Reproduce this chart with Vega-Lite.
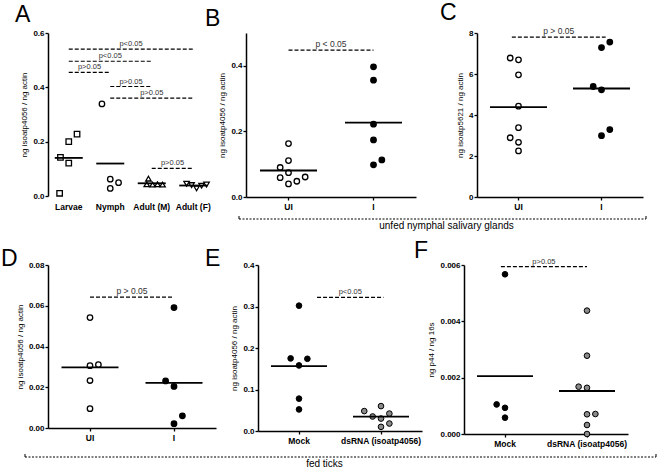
{
  "$schema": "https://vega.github.io/schema/vega-lite/v6.json",
  "padding": {"left": 1, "top": 2, "right": 0, "bottom": 0},
  "config": {
    "view": {"stroke": null},
    "font": "Liberation Sans",
    "title": {"fontSize": 23, "fontWeight": "normal", "anchor": "start", "frame": "group", "color": "black", "font": "Liberation Sans"},
    "axis": {"domainColor": "black", "domainWidth": 1.5, "tickColor": "black", "tickWidth": 1.3, "tickSize": 3, "labelFont": "Liberation Sans", "labelFontSize": 8, "labelFontWeight": "bold", "labelColor": "black", "labelPadding": 1, "titleFont": "Liberation Sans", "titleFontSize": 8, "titleFontWeight": "normal", "titleColor": "black", "titlePadding": 4, "grid": false},
    "axisX": {"labelAngle": 0, "labelFontSize": 8.5, "labelPadding": 2}
  },
  "datasets": {
    "A": [
      {"group": "Larvae", "j": -1, "value": 0.142},
      {"group": "Larvae", "j": 0, "value": 0.2},
      {"group": "Larvae", "j": 1, "value": 0.228},
      {"group": "Larvae", "j": 0, "value": 0.121},
      {"group": "Larvae", "j": -1.1, "value": 0.01},
      {"group": "Nymph", "j": -1, "value": 0.339},
      {"group": "Nymph", "j": 0, "value": 0.062},
      {"group": "Nymph", "j": 1, "value": 0.049},
      {"group": "Nymph", "j": 0, "value": 0.028},
      {"group": "Adult (M)", "j": -0.4, "value": 0.064},
      {"group": "Adult (M)", "j": -0.6, "value": 0.043},
      {"group": "Adult (M)", "j": 0.1, "value": 0.042},
      {"group": "Adult (M)", "j": 0.7, "value": 0.043},
      {"group": "Adult (M)", "j": 1.3, "value": 0.042},
      {"group": "Adult (F)", "j": -0.8, "value": 0.045},
      {"group": "Adult (F)", "j": -0.2, "value": 0.04},
      {"group": "Adult (F)", "j": 0.4, "value": 0.028},
      {"group": "Adult (F)", "j": 1.0, "value": 0.038},
      {"group": "Adult (F)", "j": 1.6, "value": 0.042}
    ],
    "A_p": [
      {"a": 0, "b": 3, "y": 0.541, "label": "p<0.05"},
      {"a": 0, "b": 2, "y": 0.496, "label": "p<0.05"},
      {"a": 0, "b": 1, "y": 0.455, "label": "p>0.05"},
      {"a": 1, "b": 2, "y": 0.403, "label": "p>0.05"},
      {"a": 1, "b": 3, "y": 0.36, "label": "p>0.05"},
      {"a": 2, "b": 3, "y": 0.102, "label": "p>0.05"}
    ],
    "B": [
      {"group": "UI", "j": 0, "value": 0.163},
      {"group": "UI", "j": 0, "value": 0.111},
      {"group": "UI", "j": -1, "value": 0.09},
      {"group": "UI", "j": 0, "value": 0.074},
      {"group": "UI", "j": -1, "value": 0.059},
      {"group": "UI", "j": 0, "value": 0.04},
      {"group": "UI", "j": 1, "value": 0.048},
      {"group": "UI", "j": 2, "value": 0.061},
      {"group": "I", "j": 0, "value": 0.397},
      {"group": "I", "j": 0, "value": 0.356},
      {"group": "I", "j": 0, "value": 0.222},
      {"group": "I", "j": 0, "value": 0.174},
      {"group": "I", "j": 0, "value": 0.098},
      {"group": "I", "j": 1, "value": 0.113}
    ],
    "B_p": [{"a": 0, "b": 1, "y": 0.448, "label": "p < 0.05"}],
    "C": [
      {"group": "UI", "j": -1, "value": 6.78},
      {"group": "UI", "j": 0, "value": 6.69},
      {"group": "UI", "j": 0, "value": 5.96},
      {"group": "UI", "j": 0, "value": 4.43},
      {"group": "UI", "j": 0, "value": 3.38},
      {"group": "UI", "j": -1, "value": 2.89},
      {"group": "UI", "j": 0, "value": 2.67},
      {"group": "UI", "j": 0, "value": 2.25},
      {"group": "I", "j": 1, "value": 7.56},
      {"group": "I", "j": 0, "value": 7.29},
      {"group": "I", "j": -1, "value": 5.39},
      {"group": "I", "j": 0, "value": 5.23},
      {"group": "I", "j": 1, "value": 3.29},
      {"group": "I", "j": 0, "value": 2.99}
    ],
    "C_p": [{"a": -0.08, "b": 1.05, "y": 7.8, "label": "p > 0.05"}],
    "D": [
      {"group": "UI", "j": 0, "value": 0.0542},
      {"group": "UI", "j": 0, "value": 0.0306},
      {"group": "UI", "j": 1, "value": 0.0311},
      {"group": "UI", "j": 0, "value": 0.0233},
      {"group": "UI", "j": 0, "value": 0.0095},
      {"group": "I", "j": 0, "value": 0.0591},
      {"group": "I", "j": -1, "value": 0.0231},
      {"group": "I", "j": 0, "value": 0.0204},
      {"group": "I", "j": 1, "value": 0.006},
      {"group": "I", "j": 0, "value": 0.0021}
    ],
    "D_p": [{"a": 0, "b": 1, "y": 0.0642, "label": "p > 0.05"}],
    "E": [
      {"group": "Mock", "j": 0, "value": 0.302},
      {"group": "Mock", "j": -1, "value": 0.175},
      {"group": "Mock", "j": 1, "value": 0.174},
      {"group": "Mock", "j": 0, "value": 0.158},
      {"group": "Mock", "j": 0, "value": 0.078},
      {"group": "Mock", "j": 0, "value": 0.052},
      {"group": "dsRNA (isoatp4056)", "j": -2, "value": 0.048},
      {"group": "dsRNA (isoatp4056)", "j": -1, "value": 0.035},
      {"group": "dsRNA (isoatp4056)", "j": 0, "value": 0.06},
      {"group": "dsRNA (isoatp4056)", "j": 1, "value": 0.042},
      {"group": "dsRNA (isoatp4056)", "j": 0, "value": 0.03},
      {"group": "dsRNA (isoatp4056)", "j": 1, "value": 0.018},
      {"group": "dsRNA (isoatp4056)", "j": 0, "value": 0.01}
    ],
    "E_p": [{"a": 0.22, "b": 1.03, "y": 0.322, "label": "p<0.05"}],
    "F": [
      {"group": "Mock", "j": 0, "value": 0.00567},
      {"group": "Mock", "j": -1, "value": 0.00105},
      {"group": "Mock", "j": 0, "value": 0.00093},
      {"group": "Mock", "j": 0, "value": 0.00058},
      {"group": "dsRNA (isoatp4056)", "j": 0, "value": 0.00438},
      {"group": "dsRNA (isoatp4056)", "j": 0, "value": 0.00278},
      {"group": "dsRNA (isoatp4056)", "j": -1, "value": 0.00168},
      {"group": "dsRNA (isoatp4056)", "j": 0, "value": 0.00164},
      {"group": "dsRNA (isoatp4056)", "j": 0, "value": 0.0007},
      {"group": "dsRNA (isoatp4056)", "j": 1, "value": 0.00071},
      {"group": "dsRNA (isoatp4056)", "j": 0, "value": 0.00032},
      {"group": "dsRNA (isoatp4056)", "j": 0, "value": 0.0}
    ],
    "F_p": [{"a": -0.05, "b": 1.0, "y": 0.00594, "label": "p>0.05"}]
  },
  "spacing": 8,
  "resolve": {"scale": {"fill": "independent", "shape": "independent", "xOffset": "independent"}},
  "vconcat": [
    {
      "spacing": -9,
      "resolve": {"scale": {"fill": "independent", "shape": "independent", "xOffset": "independent"}},
      "hconcat": [
        {
          "width": 166, "height": 163,
          "title": {"text": "A", "dx": -33, "offset": 2},
          "layer": [
            {"layer": [
              {"data": {"name": "A"},
               "mark": {"type": "point", "filled": true, "fill": "white", "stroke": "black", "strokeWidth": 1.3, "size": 30, "opacity": 1},
               "encoding": {
                 "x": {"field": "group", "type": "nominal", "sort": ["Larvae", "Nymph", "Adult (M)", "Adult (F)"], "scale": {"type": "band", "paddingInner": 0, "paddingOuter": 0}, "axis": {"title": null, "domain": false, "ticks": false, "labelPadding": 6}},
                 "xOffset": {"field": "j", "type": "quantitative", "scale": {"domain": [-2.5, 2.5], "nice": false, "zero": false}},
                 "y": {"field": "value", "type": "quantitative", "scale": {"domain": [0, 0.6], "nice": false}, "axis": {"title": "ng isoatp4056 / ng actin", "values": [0, 0.2, 0.4, 0.6], "format": ".1f"}},
                 "shape": {"field": "group", "type": "nominal", "scale": {"domain": ["Larvae", "Nymph", "Adult (M)", "Adult (F)"], "range": ["square", "circle", "triangle-up", "triangle-down"]}, "legend": null}
               }},
              {"data": {"name": "A"},
               "mark": {"type": "tick", "color": "black", "thickness": 1.8, "size": 28},
               "encoding": {
                 "x": {"field": "group", "type": "nominal", "sort": ["Larvae", "Nymph", "Adult (M)", "Adult (F)"], "scale": {"type": "band", "paddingInner": 0, "paddingOuter": 0}},
                 "y": {"aggregate": "mean", "field": "value", "type": "quantitative", "title": "ng isoatp4056 / ng actin"}
               }}
            ]},
            {"data": {"name": "A_p"},
             "transform": [{"calculate": "(datum.a + datum.b) / 2", "as": "m"}],
             "layer": [
               {"mark": {"type": "rule", "color": "black", "strokeWidth": 1.2, "strokeDash": [4, 2]},
                "encoding": {
                  "x": {"field": "a", "type": "quantitative", "scale": {"domain": [-0.5, 3.5], "nice": false, "zero": false}, "axis": null},
                  "x2": {"field": "b"},
                  "y": {"field": "y", "type": "quantitative", "title": "ng isoatp4056 / ng actin"}
                }},
               {"mark": {"type": "text", "baseline": "bottom", "dy": -1, "fontSize": 7.5, "fill": "#333"},
                "encoding": {
                  "x": {"field": "m", "type": "quantitative", "scale": {"domain": [-0.5, 3.5], "nice": false, "zero": false}, "axis": null},
                  "y": {"field": "y", "type": "quantitative", "title": "ng isoatp4056 / ng actin"},
                  "text": {"field": "label"}
                }}
             ]}
          ],
          "resolve": {"scale": {"x": "independent"}}
        },
        {
          "spacing": 5,
          "resolve": {"scale": {"fill": "independent", "shape": "independent", "xOffset": "independent"}},
          "vconcat": [
            {
              "bounds": "flush",
              "spacing": 61,
              "resolve": {"scale": {"fill": "independent", "shape": "independent", "xOffset": "independent"}},
              "hconcat": [
                {
                  "width": 170, "height": 164,
                  "title": {"text": "B", "dx": -41, "offset": 2},
                  "layer": [
                    {"layer": [
                      {"data": {"name": "B"},
                       "mark": {"type": "point", "shape": "circle", "filled": true, "stroke": "black", "strokeWidth": 1.3, "size": 30, "opacity": 1},
                       "encoding": {
                         "x": {"field": "group", "type": "nominal", "sort": ["UI", "I"], "scale": {"type": "band", "paddingInner": 0, "paddingOuter": 0}, "axis": {"title": null}},
                         "xOffset": {"field": "j", "type": "quantitative", "scale": {"domain": [-5.1, 5.1], "nice": false, "zero": false}},
                         "y": {"field": "value", "type": "quantitative", "scale": {"domain": [0, 0.5], "nice": false}, "axis": {"title": "ng isoatp4056 / ng actin", "values": [0, 0.1, 0.2, 0.3, 0.4, 0.5], "format": ".1f"}},
                         "fill": {"field": "group", "type": "nominal", "scale": {"domain": ["UI", "I"], "range": ["white", "black"]}, "legend": null}
                       }},
                      {"data": {"name": "B"},
                       "mark": {"type": "tick", "color": "black", "thickness": 1.8, "size": 57},
                       "encoding": {
                         "x": {"field": "group", "type": "nominal", "sort": ["UI", "I"], "scale": {"type": "band", "paddingInner": 0, "paddingOuter": 0}},
                         "y": {"aggregate": "mean", "field": "value", "type": "quantitative", "title": "ng isoatp4056 / ng actin"}
                       }}
                    ]},
                    {"data": {"name": "B_p"},
                     "transform": [{"calculate": "(datum.a + datum.b) / 2", "as": "m"}],
                     "layer": [
                       {"mark": {"type": "rule", "color": "black", "strokeWidth": 1.2, "strokeDash": [4, 2]},
                        "encoding": {
                          "x": {"field": "a", "type": "quantitative", "scale": {"domain": [-0.5, 1.5], "nice": false, "zero": false}, "axis": null},
                          "x2": {"field": "b"},
                          "y": {"field": "y", "type": "quantitative", "title": "ng isoatp4056 / ng actin"}
                        }},
                       {"mark": {"type": "text", "baseline": "bottom", "dy": -1, "fontSize": 8.5, "fill": "#333"},
                        "encoding": {
                          "x": {"field": "m", "type": "quantitative", "scale": {"domain": [-0.5, 1.5], "nice": false, "zero": false}, "axis": null},
                          "y": {"field": "y", "type": "quantitative", "title": "ng isoatp4056 / ng actin"},
                          "text": {"field": "label"}
                        }}
                     ]}
                  ],
                  "resolve": {"scale": {"x": "independent"}}
                },
                {
                  "width": 166, "height": 164,
                  "title": {"text": "C", "dx": -37, "offset": 2},
                  "layer": [
                    {"layer": [
                      {"data": {"name": "C"},
                       "mark": {"type": "point", "shape": "circle", "filled": true, "stroke": "black", "strokeWidth": 1.3, "size": 30, "opacity": 1},
                       "encoding": {
                         "x": {"field": "group", "type": "nominal", "sort": ["UI", "I"], "scale": {"type": "band", "paddingInner": 0, "paddingOuter": 0}, "axis": {"title": null}},
                         "xOffset": {"field": "j", "type": "quantitative", "scale": {"domain": [-5, 5], "nice": false, "zero": false}},
                         "y": {"field": "value", "type": "quantitative", "scale": {"domain": [0, 8], "nice": false}, "axis": {"title": "ng isoatp5621 / ng actin", "values": [0, 2, 4, 6, 8], "format": "d"}},
                         "fill": {"field": "group", "type": "nominal", "scale": {"domain": ["UI", "I"], "range": ["white", "black"]}, "legend": null}
                       }},
                      {"data": {"name": "C"},
                       "mark": {"type": "tick", "color": "black", "thickness": 1.8, "size": 57},
                       "encoding": {
                         "x": {"field": "group", "type": "nominal", "sort": ["UI", "I"], "scale": {"type": "band", "paddingInner": 0, "paddingOuter": 0}},
                         "y": {"aggregate": "mean", "field": "value", "type": "quantitative", "title": "ng isoatp5621 / ng actin"}
                       }}
                    ]},
                    {"data": {"name": "C_p"},
                     "transform": [{"calculate": "(datum.a + datum.b) / 2", "as": "m"}],
                     "layer": [
                       {"mark": {"type": "rule", "color": "black", "strokeWidth": 1.2, "strokeDash": [4, 2]},
                        "encoding": {
                          "x": {"field": "a", "type": "quantitative", "scale": {"domain": [-0.5, 1.5], "nice": false, "zero": false}, "axis": null},
                          "x2": {"field": "b"},
                          "y": {"field": "y", "type": "quantitative", "title": "ng isoatp5621 / ng actin"}
                        }},
                       {"mark": {"type": "text", "baseline": "bottom", "dy": -1, "fontSize": 8.5, "fill": "#333"},
                        "encoding": {
                          "x": {"field": "m", "type": "quantitative", "scale": {"domain": [-0.5, 1.5], "nice": false, "zero": false}, "axis": null},
                          "y": {"field": "y", "type": "quantitative", "title": "ng isoatp5621 / ng actin"},
                          "text": {"field": "label"}
                        }}
                     ]}
                  ],
                  "resolve": {"scale": {"x": "independent"}}
                }
              ]
            },
            {
              "width": 407, "height": 3,
              "data": {"values": [{"end": 0}, {"end": 1}]},
              "mark": {"type": "rule", "strokeOpacity": 0},
              "encoding": {
                "x": {"field": "end", "type": "quantitative", "scale": {"domain": [0, 1], "nice": false}, "axis": {"domain": true, "domainDash": [2, 1.5], "domainWidth": 1, "ticks": true, "values": [0, 1], "tickSize": -3, "tickWidth": 1, "labels": false, "title": null, "translate": -7, "offset": 7}}
              },
              "title": {"text": "unfed nymphal salivary glands", "orient": "bottom", "anchor": "middle", "fontSize": 10, "fontWeight": "normal", "offset": -6, "dx": -3}
            }
          ]
        }
      ]
    },
    {
      "spacing": 6,
      "resolve": {"scale": {"fill": "independent", "shape": "independent", "xOffset": "independent"}},
      "vconcat": [
        {
          "bounds": "flush",
          "spacing": 42,
          "resolve": {"scale": {"fill": "independent", "shape": "independent", "xOffset": "independent"}},
          "hconcat": [
            {
              "width": 168, "height": 163,
              "title": {"text": "D", "dx": -47, "offset": -10},
              "layer": [
                {"layer": [
                  {"data": {"name": "D"},
                   "mark": {"type": "point", "shape": "circle", "filled": true, "stroke": "black", "strokeWidth": 1.3, "size": 30, "opacity": 1},
                   "encoding": {
                     "x": {"field": "group", "type": "nominal", "sort": ["UI", "I"], "scale": {"type": "band", "paddingInner": 0, "paddingOuter": 0}, "axis": {"title": null}},
                     "xOffset": {"field": "j", "type": "quantitative", "scale": {"domain": [-5, 5], "nice": false, "zero": false}},
                     "y": {"field": "value", "type": "quantitative", "scale": {"domain": [0, 0.08], "nice": false}, "axis": {"title": "ng isoatp4056 / ng actin", "values": [0, 0.02, 0.04, 0.06, 0.08], "format": ".2f"}},
                     "fill": {"field": "group", "type": "nominal", "scale": {"domain": ["UI", "I"], "range": ["white", "black"]}, "legend": null}
                   }},
                  {"data": {"name": "D"},
                   "mark": {"type": "tick", "color": "black", "thickness": 1.8, "size": 57},
                   "encoding": {
                     "x": {"field": "group", "type": "nominal", "sort": ["UI", "I"], "scale": {"type": "band", "paddingInner": 0, "paddingOuter": 0}},
                     "y": {"aggregate": "mean", "field": "value", "type": "quantitative", "title": "ng isoatp4056 / ng actin"}
                   }}
                ]},
                {"data": {"name": "D_p"},
                 "transform": [{"calculate": "(datum.a + datum.b) / 2", "as": "m"}],
                 "layer": [
                   {"mark": {"type": "rule", "color": "black", "strokeWidth": 1.2, "strokeDash": [4, 2]},
                    "encoding": {
                      "x": {"field": "a", "type": "quantitative", "scale": {"domain": [-0.5, 1.5], "nice": false, "zero": false}, "axis": null},
                      "x2": {"field": "b"},
                      "y": {"field": "y", "type": "quantitative", "title": "ng isoatp4056 / ng actin"}
                    }},
                   {"mark": {"type": "text", "baseline": "bottom", "dy": -1, "fontSize": 8.5, "fill": "#333"},
                    "encoding": {
                      "x": {"field": "m", "type": "quantitative", "scale": {"domain": [-0.5, 1.5], "nice": false, "zero": false}, "axis": null},
                      "y": {"field": "y", "type": "quantitative", "title": "ng isoatp4056 / ng actin"},
                      "text": {"field": "label"}
                    }}
                 ]}
              ],
              "resolve": {"scale": {"x": "independent"}}
            },
            {
              "width": 164, "height": 166,
              "title": {"text": "E", "dx": -53, "offset": -10},
              "layer": [
                {"layer": [
                  {"data": {"name": "E"},
                   "mark": {"type": "point", "shape": "circle", "filled": true, "stroke": "black", "strokeWidth": 1, "size": 32, "opacity": 1},
                   "encoding": {
                     "x": {"field": "group", "type": "nominal", "sort": ["Mock", "dsRNA (isoatp4056)"], "scale": {"type": "band", "paddingInner": 0, "paddingOuter": 0}, "axis": {"title": null}},
                     "xOffset": {"field": "j", "type": "quantitative", "scale": {"domain": [-4.9, 4.9], "nice": false, "zero": false}},
                     "y": {"field": "value", "type": "quantitative", "scale": {"domain": [0, 0.4], "nice": false}, "axis": {"title": "ng isoatp4056 / ng actin", "values": [0, 0.1, 0.2, 0.3, 0.4], "format": ".1f"}},
                     "fill": {"field": "group", "type": "nominal", "scale": {"domain": ["Mock", "dsRNA (isoatp4056)"], "range": ["black", "#8a8a8a"]}, "legend": null}
                   }},
                  {"data": {"name": "E"},
                   "mark": {"type": "tick", "color": "black", "thickness": 1.8, "size": 56},
                   "encoding": {
                     "x": {"field": "group", "type": "nominal", "sort": ["Mock", "dsRNA (isoatp4056)"], "scale": {"type": "band", "paddingInner": 0, "paddingOuter": 0}},
                     "y": {"aggregate": "mean", "field": "value", "type": "quantitative", "title": "ng isoatp4056 / ng actin"}
                   }}
                ]},
                {"data": {"name": "E_p"},
                 "transform": [{"calculate": "(datum.a + datum.b) / 2", "as": "m"}],
                 "layer": [
                   {"mark": {"type": "rule", "color": "black", "strokeWidth": 1.2, "strokeDash": [4, 2]},
                    "encoding": {
                      "x": {"field": "a", "type": "quantitative", "scale": {"domain": [-0.5, 1.5], "nice": false, "zero": false}, "axis": null},
                      "x2": {"field": "b"},
                      "y": {"field": "y", "type": "quantitative", "title": "ng isoatp4056 / ng actin"}
                    }},
                   {"mark": {"type": "text", "baseline": "bottom", "dy": -1, "fontSize": 7.5, "fill": "#333"},
                    "encoding": {
                      "x": {"field": "m", "type": "quantitative", "scale": {"domain": [-0.5, 1.5], "nice": false, "zero": false}, "axis": null},
                      "y": {"field": "y", "type": "quantitative", "title": "ng isoatp4056 / ng actin"},
                      "text": {"field": "label"}
                    }}
                 ]}
              ],
              "resolve": {"scale": {"x": "independent"}}
            },
            {
              "width": 164, "height": 169,
              "title": {"text": "F", "dx": -50, "offset": -5},
              "layer": [
                {"layer": [
                  {"data": {"name": "F"},
                   "mark": {"type": "point", "shape": "circle", "filled": true, "stroke": "black", "strokeWidth": 1, "size": 32, "opacity": 1},
                   "encoding": {
                     "x": {"field": "group", "type": "nominal", "sort": ["Mock", "dsRNA (isoatp4056)"], "scale": {"type": "band", "paddingInner": 0, "paddingOuter": 0}, "axis": {"title": null}},
                     "xOffset": {"field": "j", "type": "quantitative", "scale": {"domain": [-4.9, 4.9], "nice": false, "zero": false}},
                     "y": {"field": "value", "type": "quantitative", "scale": {"domain": [0, 0.006], "nice": false}, "axis": {"title": "ng p44 / ng 16s", "values": [0, 0.002, 0.004, 0.006], "format": ".3f"}},
                     "fill": {"field": "group", "type": "nominal", "scale": {"domain": ["Mock", "dsRNA (isoatp4056)"], "range": ["black", "#8a8a8a"]}, "legend": null}
                   }},
                  {"data": {"name": "F"},
                   "mark": {"type": "tick", "color": "black", "thickness": 1.8, "size": 56},
                   "encoding": {
                     "x": {"field": "group", "type": "nominal", "sort": ["Mock", "dsRNA (isoatp4056)"], "scale": {"type": "band", "paddingInner": 0, "paddingOuter": 0}},
                     "y": {"aggregate": "mean", "field": "value", "type": "quantitative", "title": "ng p44 / ng 16s"}
                   }}
                ]},
                {"data": {"name": "F_p"},
                 "transform": [{"calculate": "(datum.a + datum.b) / 2", "as": "m"}],
                 "layer": [
                   {"mark": {"type": "rule", "color": "black", "strokeWidth": 1.2, "strokeDash": [4, 2]},
                    "encoding": {
                      "x": {"field": "a", "type": "quantitative", "scale": {"domain": [-0.5, 1.5], "nice": false, "zero": false}, "axis": null},
                      "x2": {"field": "b"},
                      "y": {"field": "y", "type": "quantitative", "title": "ng p44 / ng 16s"}
                    }},
                   {"mark": {"type": "text", "baseline": "bottom", "dy": -1, "fontSize": 7.5, "fill": "#333"},
                    "encoding": {
                      "x": {"field": "m", "type": "quantitative", "scale": {"domain": [-0.5, 1.5], "nice": false, "zero": false}, "axis": null},
                      "y": {"field": "y", "type": "quantitative", "title": "ng p44 / ng 16s"},
                      "text": {"field": "label"}
                    }}
                 ]}
              ],
              "resolve": {"scale": {"x": "independent"}}
            }
          ]
        },
        {
          "width": 631, "height": 3,
          "data": {"values": [{"end": 0}, {"end": 1}]},
          "mark": {"type": "rule", "strokeOpacity": 0},
          "encoding": {
            "x": {"field": "end", "type": "quantitative", "scale": {"domain": [0, 1], "nice": false}, "axis": {"domain": true, "domainDash": [2, 1.5], "domainWidth": 1, "ticks": true, "values": [0, 1], "tickSize": -3, "tickWidth": 1, "labels": false, "title": null, "translate": -23, "offset": 23}}
          },
          "title": {"text": "fed ticks", "orient": "bottom", "anchor": "middle", "fontSize": 10, "fontWeight": "normal", "offset": -22, "dx": -39}
        }
      ]
    }
  ]
}
